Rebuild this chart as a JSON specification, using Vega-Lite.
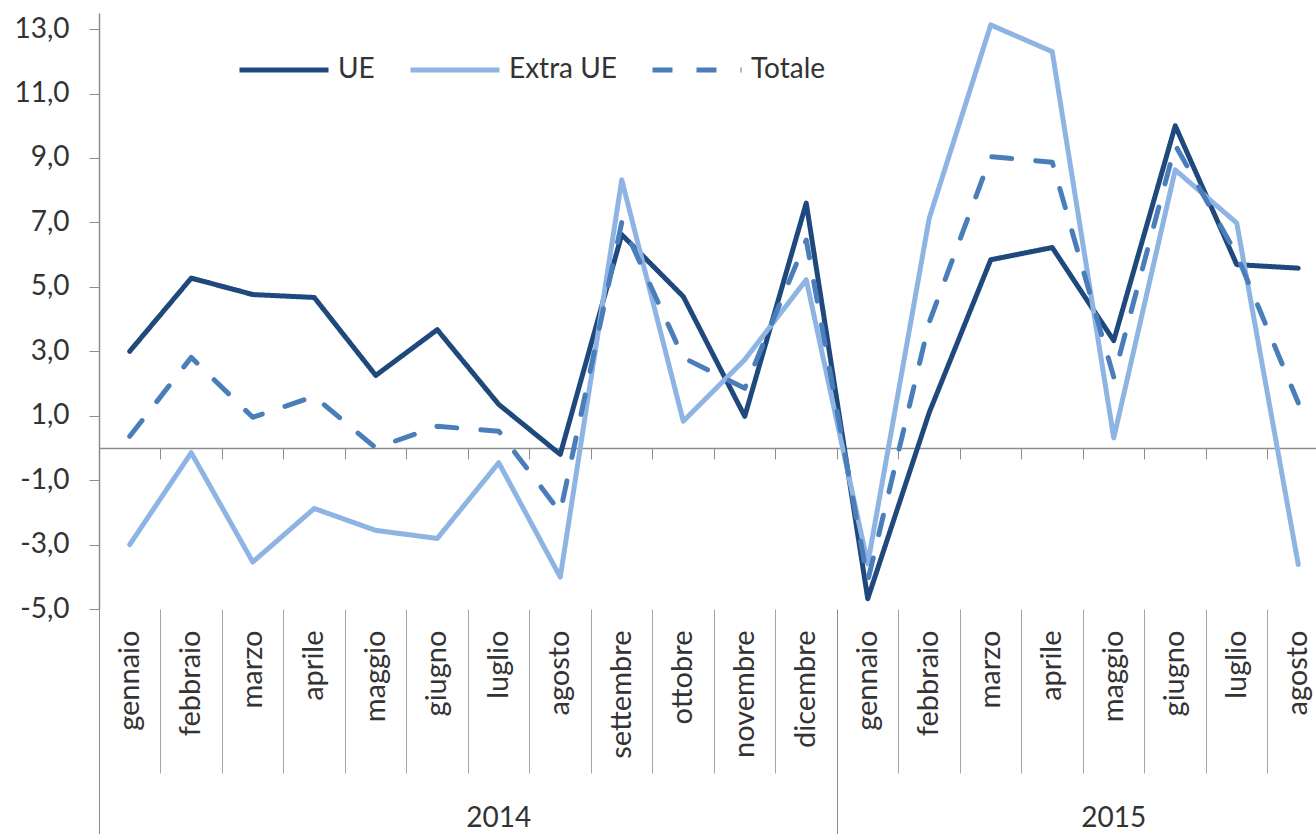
{
  "$schema": "https://vega.github.io/schema/vega-lite/v6.json",
  "autosize": {"type": "none"},
  "padding": {"left": 99, "top": 13, "right": 0, "bottom": 225},
  "width": 1217,
  "height": 596,
  "background": "white",
  "config": {
    "view": {"stroke": null},
    "font": "Lato",
    "axis": {"grid": false, "labelFont": "Lato", "labelColor": "#333333", "domainColor": "#8C8C8C", "tickColor": "#8C8C8C", "labelFontSize": 28},
    "legend": {"labelFont": "Lato", "labelColor": "#333333"}
  },
  "data": {
    "values": [
      {"periodo": "gennaio 2014", "serie": "UE", "valore": 3.0},
      {"periodo": "febbraio 2014", "serie": "UE", "valore": 5.27},
      {"periodo": "marzo 2014", "serie": "UE", "valore": 4.76},
      {"periodo": "aprile 2014", "serie": "UE", "valore": 4.67},
      {"periodo": "maggio 2014", "serie": "UE", "valore": 2.25},
      {"periodo": "giugno 2014", "serie": "UE", "valore": 3.67},
      {"periodo": "luglio 2014", "serie": "UE", "valore": 1.35},
      {"periodo": "agosto 2014", "serie": "UE", "valore": -0.2},
      {"periodo": "settembre 2014", "serie": "UE", "valore": 6.62},
      {"periodo": "ottobre 2014", "serie": "UE", "valore": 4.7},
      {"periodo": "novembre 2014", "serie": "UE", "valore": 0.98},
      {"periodo": "dicembre 2014", "serie": "UE", "valore": 7.6},
      {"periodo": "gennaio 2015", "serie": "UE", "valore": -4.68},
      {"periodo": "febbraio 2015", "serie": "UE", "valore": 1.1},
      {"periodo": "marzo 2015", "serie": "UE", "valore": 5.84},
      {"periodo": "aprile 2015", "serie": "UE", "valore": 6.22},
      {"periodo": "maggio 2015", "serie": "UE", "valore": 3.33},
      {"periodo": "giugno 2015", "serie": "UE", "valore": 10.0},
      {"periodo": "luglio 2015", "serie": "UE", "valore": 5.69},
      {"periodo": "agosto 2015", "serie": "UE", "valore": 5.58},
      {"periodo": "gennaio 2014", "serie": "Extra UE", "valore": -3.0},
      {"periodo": "febbraio 2014", "serie": "Extra UE", "valore": -0.15},
      {"periodo": "marzo 2014", "serie": "Extra UE", "valore": -3.54},
      {"periodo": "aprile 2014", "serie": "Extra UE", "valore": -1.88},
      {"periodo": "maggio 2014", "serie": "Extra UE", "valore": -2.56},
      {"periodo": "giugno 2014", "serie": "Extra UE", "valore": -2.81},
      {"periodo": "luglio 2014", "serie": "Extra UE", "valore": -0.46},
      {"periodo": "agosto 2014", "serie": "Extra UE", "valore": -4.01},
      {"periodo": "settembre 2014", "serie": "Extra UE", "valore": 8.32},
      {"periodo": "ottobre 2014", "serie": "Extra UE", "valore": 0.83},
      {"periodo": "novembre 2014", "serie": "Extra UE", "valore": 2.74},
      {"periodo": "dicembre 2014", "serie": "Extra UE", "valore": 5.22},
      {"periodo": "gennaio 2015", "serie": "Extra UE", "valore": -3.6},
      {"periodo": "febbraio 2015", "serie": "Extra UE", "valore": 7.13},
      {"periodo": "marzo 2015", "serie": "Extra UE", "valore": 13.13},
      {"periodo": "aprile 2015", "serie": "Extra UE", "valore": 12.3},
      {"periodo": "maggio 2015", "serie": "Extra UE", "valore": 0.31},
      {"periodo": "giugno 2015", "serie": "Extra UE", "valore": 8.63},
      {"periodo": "luglio 2015", "serie": "Extra UE", "valore": 6.98},
      {"periodo": "agosto 2015", "serie": "Extra UE", "valore": -3.62},
      {"periodo": "gennaio 2014", "serie": "Totale", "valore": 0.36},
      {"periodo": "febbraio 2014", "serie": "Totale", "valore": 2.81},
      {"periodo": "marzo 2014", "serie": "Totale", "valore": 0.95},
      {"periodo": "aprile 2014", "serie": "Totale", "valore": 1.6},
      {"periodo": "maggio 2014", "serie": "Totale", "valore": 0.0},
      {"periodo": "giugno 2014", "serie": "Totale", "valore": 0.67},
      {"periodo": "luglio 2014", "serie": "Totale", "valore": 0.52},
      {"periodo": "agosto 2014", "serie": "Totale", "valore": -2.0},
      {"periodo": "settembre 2014", "serie": "Totale", "valore": 7.0},
      {"periodo": "ottobre 2014", "serie": "Totale", "valore": 2.8},
      {"periodo": "novembre 2014", "serie": "Totale", "valore": 1.85},
      {"periodo": "dicembre 2014", "serie": "Totale", "valore": 6.45},
      {"periodo": "gennaio 2015", "serie": "Totale", "valore": -4.13},
      {"periodo": "febbraio 2015", "serie": "Totale", "valore": 3.9},
      {"periodo": "marzo 2015", "serie": "Totale", "valore": 9.04},
      {"periodo": "aprile 2015", "serie": "Totale", "valore": 8.87},
      {"periodo": "maggio 2015", "serie": "Totale", "valore": 2.2},
      {"periodo": "giugno 2015", "serie": "Totale", "valore": 9.4},
      {"periodo": "luglio 2015", "serie": "Totale", "valore": 6.0},
      {"periodo": "agosto 2015", "serie": "Totale", "valore": 1.4}
    ]
  },
  "resolve": {"axis": {"x": "independent"}},
  "layer": [
    {
      "mark": {"type": "point", "opacity": 0},
      "encoding": {
        "x": {"field": "periodo", "type": "ordinal", "sort": null,
          "scale": {"type": "band", "range": [0, 1230], "paddingInner": 0, "paddingOuter": 0},
          "axis": {"orient": "bottom", "title": null, "labels": false, "ticks": true, "tickSize": 11, "tickColor": "#8C8C8C", "domain": true, "domainColor": "#8C8C8C", "domainWidth": 1.5, "bandPosition": 0, "offset": -161.08}}
      }
    },
    {
      "mark": {"type": "point", "opacity": 0},
      "encoding": {
        "x": {"field": "periodo", "type": "ordinal", "sort": null,
          "axis": {"orient": "bottom", "title": null, "labels": false, "domain": false, "ticks": true, "tickSize": 164, "tickColor": "#A6A6A6", "bandPosition": 0,
            "values": ["febbraio 2014", "marzo 2014", "aprile 2014", "maggio 2014", "giugno 2014", "luglio 2014", "agosto 2014", "settembre 2014", "ottobre 2014", "novembre 2014", "dicembre 2014", "febbraio 2015", "marzo 2015", "aprile 2015", "maggio 2015", "giugno 2015", "luglio 2015", "agosto 2015"]}}
      }
    },
    {
      "mark": {"type": "point", "opacity": 0},
      "encoding": {
        "x": {"field": "periodo", "type": "ordinal", "sort": null,
          "axis": {"orient": "bottom", "title": null, "labels": false, "domain": false, "ticks": true, "tickSize": 230, "tickColor": "#8C8C8C", "bandPosition": 0,
            "values": ["gennaio 2014", "gennaio 2015"]}}
      }
    },
    {
      "mark": {"type": "point", "opacity": 0},
      "encoding": {
        "x": {"field": "periodo", "type": "ordinal", "sort": null,
          "axis": {"orient": "bottom", "title": null, "domain": false, "ticks": false, "tickSize": 0, "bandPosition": 0,
            "labelExpr": "split(datum.value, ' ')[1]", "labelBaseline": "middle", "labelAngle": 0, "labelAlign": "center", "labelPadding": 209, "labelFontSize": 28,
            "values": ["luglio 2014", "maggio 2015"]}}
      }
    },
    {
      "mark": {"type": "line", "strokeWidth": 5, "strokeCap": "round", "strokeJoin": "round"},
      "encoding": {
        "x": {"field": "periodo", "type": "ordinal", "sort": null,
          "axis": {"orient": "bottom", "title": null, "domain": false, "ticks": false, "tickSize": 0, "labelAngle": -90, "labelPadding": 21, "labelFontSize": 29, "labelOverlap": false,
            "labelExpr": "split(datum.value, ' ')[0]"}},
        "y": {"field": "valore", "type": "quantitative",
          "scale": {"domain": [-5, 13.5], "nice": false, "zero": false},
          "axis": {"title": null, "values": [-5, -3, -1, 1, 3, 5, 7, 9, 11, 13], "tickSize": 10, "labelPadding": 20, "labelFontSize": 28, "domainColor": "#8C8C8C", "domainWidth": 1.5,
            "labelExpr": "(datum.value < 0 ? '-' : '') + replace(format(abs(datum.value), '.1f'), '.', ',')"}},
        "color": {"field": "serie", "type": "nominal",
          "scale": {"domain": ["UE", "Extra UE", "Totale"], "range": ["#1F497D", "#8DB4E2", "#4A7EBB"]},
          "legend": {"title": null, "orient": "none", "direction": "horizontal", "legendX": 138, "legendY": 10, "symbolType": "stroke", "symbolSize": 7921, "symbolStrokeWidth": 5, "labelFontSize": 28, "labelOffset": 7, "columnPadding": 25, "padding": 0}},
        "strokeDash": {"field": "serie", "type": "nominal",
          "scale": {"domain": ["UE", "Extra UE", "Totale"], "range": [[1, 0], [1, 0], [20, 24]]},
          "legend": {"title": null, "orient": "none", "direction": "horizontal", "legendX": 138, "legendY": 10, "symbolType": "stroke", "symbolSize": 7921, "symbolStrokeWidth": 5, "labelFontSize": 28, "labelOffset": 7, "columnPadding": 25, "padding": 0}}
      }
    }
  ]
}
